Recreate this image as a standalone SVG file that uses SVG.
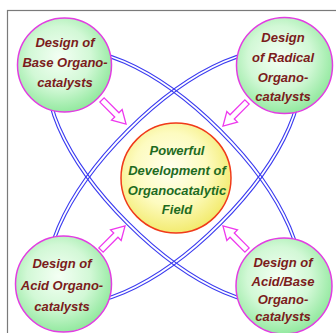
<svg xmlns="http://www.w3.org/2000/svg" width="336" height="333" viewBox="0 0 336 333">
<defs>
<radialGradient id="gg" cx="0.45" cy="0.42" r="0.6">
<stop offset="0" stop-color="#f4fff4"/>
<stop offset="0.55" stop-color="#d2f8d6"/>
<stop offset="1" stop-color="#8fe89c"/>
</radialGradient>
<radialGradient id="yg" cx="0.45" cy="0.42" r="0.6">
<stop offset="0" stop-color="#ffffee"/>
<stop offset="0.55" stop-color="#fdfbc0"/>
<stop offset="1" stop-color="#f2ea6a"/>
</radialGradient>
<polygon id="arr" points="0,-3 21,-3 21,-7.5 34,0 21,7.5 21,3 0,3"/>
</defs>
<style>
.frame{fill:#fff;stroke:#7a7a7a;stroke-width:1.2}
.side{fill:url(#gg);stroke:#e23de2;stroke-width:1.5}
.mid{fill:url(#yg);stroke:#f03a1a;stroke-width:1.5}
.ln{fill:none;stroke:#3b3bf0;stroke-width:1.1}
.ar{fill:#fff;stroke:#ee38ee;stroke-width:1.3;stroke-linejoin:miter}
text{font-family:"Liberation Sans",Arial,sans-serif;font-size:13px;font-weight:bold;font-style:italic;text-anchor:middle}
.r{fill:#7b1c1c}
.g{fill:#1f6b1f}
</style>
<rect class="frame" x="7.5" y="10.5" width="340" height="340"/>
<g id="connectors">
<g transform="translate(174,177) rotate(45)">
<ellipse class="ln" rx="166.5" ry="66.9"/>
<ellipse class="ln" rx="163.5" ry="63.9"/>
</g>
<g transform="translate(174,177) rotate(-45)">
<ellipse class="ln" rx="166.5" ry="66.9"/>
<ellipse class="ln" rx="163.5" ry="63.9"/>
</g>
<use href="#arr" class="ar" transform="translate(102,100) rotate(45)"/>
<use href="#arr" class="ar" transform="translate(247,102) rotate(135)"/>
<use href="#arr" class="ar" transform="translate(101,250) rotate(-45)"/>
<use href="#arr" class="ar" transform="translate(247,250) rotate(-135)"/>
</g>
<g id="base">
<circle class="side" cx="64.5" cy="65" r="47"/>
<text class="r" x="65" y="47">Design of</text>
<text class="r" x="65" y="67">Base Organo-</text>
<text class="r" x="65" y="87">catalysts</text>
</g>
<g id="radical">
<circle class="side" cx="284.5" cy="65.5" r="48"/>
<text class="r" x="283" y="42">Design</text>
<text class="r" x="283" y="62">of Radical</text>
<text class="r" x="283" y="82">Organo-</text>
<text class="r" x="283" y="101">catalysts</text>
</g>
<g id="acid">
<circle class="side" cx="63.5" cy="284" r="48"/>
<text class="r" x="62" y="268">Design of</text>
<text class="r" x="62" y="290">Acid Organo-</text>
<text class="r" x="62" y="311">catalysts</text>
</g>
<g id="acidbase">
<circle class="side" cx="284" cy="286" r="48"/>
<text class="r" x="283" y="267">Design of</text>
<text class="r" x="283" y="286">Acid/Base</text>
<text class="r" x="283" y="304">Organo-</text>
<text class="r" x="283" y="321">catalysts</text>
</g>
<g id="center">
<circle class="mid" cx="176" cy="178" r="55"/>
<text class="g" x="177" y="155">Powerful</text>
<text class="g" x="177" y="175">Development of</text>
<text class="g" x="177" y="195">Organocatalytic</text>
<text class="g" x="177" y="214">Field</text>
</g>
</svg>
